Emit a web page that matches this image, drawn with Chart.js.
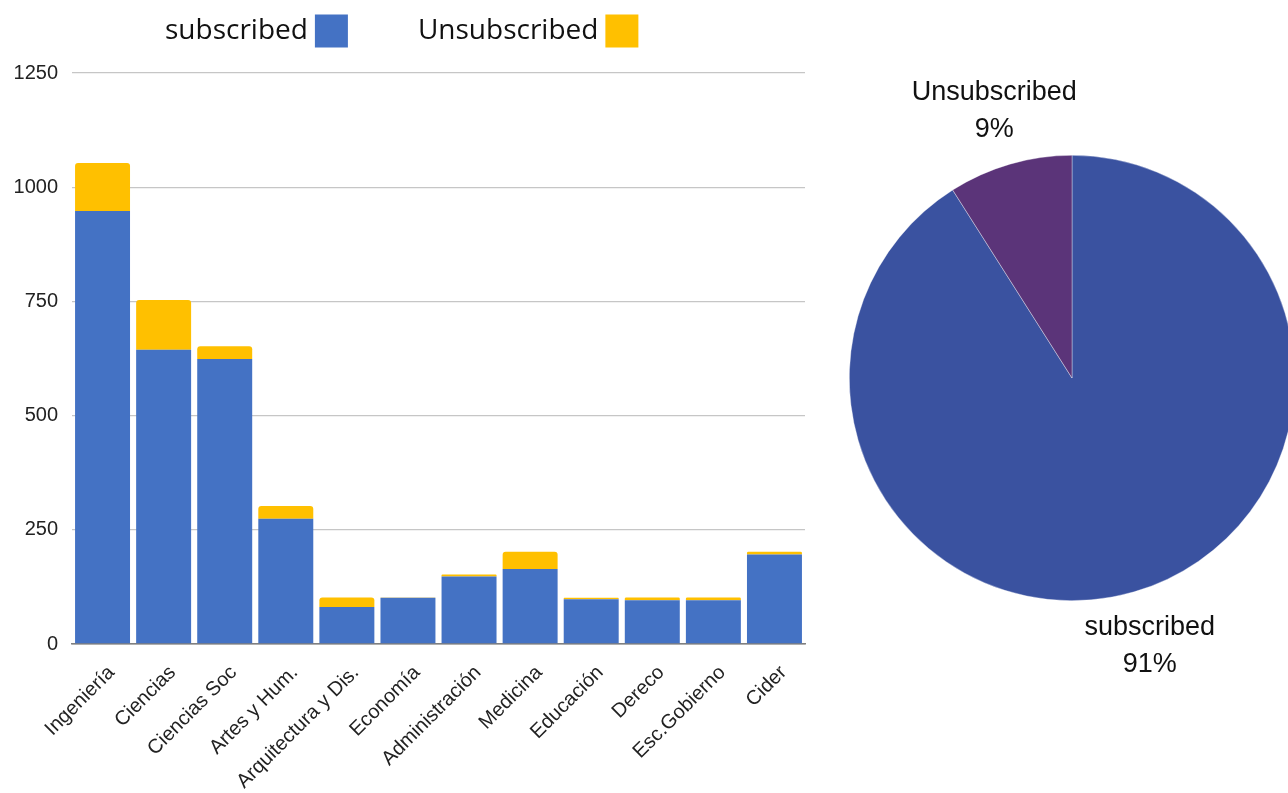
<!DOCTYPE html>
<html>
<head>
<meta charset="utf-8">
<script src="https://cdn.jsdelivr.net/npm/chart.js@4.4.1/dist/chart.umd.min.js"></script>
<style>
  html, body { margin: 0; padding: 0; background: #fff; overflow: hidden; width: 1288px; height: 793px; }
  #barWrap { position: absolute; left: 0; top: 0; width: 820px; height: 793px; }
  #pieWrap { position: absolute; left: 830px; top: 0; width: 484px; height: 793px; }
</style>
</head>
<body>
<div id="barWrap"><canvas id="barChart"></canvas></div>
<div id="pieWrap"><canvas id="pieChart"></canvas></div>
<script>
// students per faculty
const faculties = ['Ingeniería', 'Ciencias', 'Ciencias Soc', 'Artes y Hum.', 'Arquitectura y Dis.', 'Economía',
  'Administración', 'Medicina', 'Educación', 'Dereco', 'Esc.Gobierno', 'Cider'];
const subscribed   = [948, 644, 624, 274, 81, 101, 148, 164, 98, 96, 96, 196];
const unsubscribed = [105, 109, 28, 28, 21, 1, 4, 38, 3, 6, 6, 6];
const seriesNames = ['subscribed', 'Unsubscribed'];
const yTicks = [0, 250, 500, 750, 1000, 1250];

// overall share (%)
const pieLabels = ['subscribed', 'Unsubscribed'];
const pieShares = [91, 9];

const BLUE = '#4472C4';
const GOLD = '#FFC000';
const tickFont = { family: '"Liberation Sans", Arial, sans-serif', size: 20 };

// legend with the label first and the swatch after it
const topLegend = {
  id: 'topLegend',
  afterDraw(chart) {
    const ctx = chart.ctx;
    ctx.save();
    ctx.font = '28px "Open Sans", sans-serif';
    ctx.textBaseline = 'middle';
    ctx.textAlign = 'left';
    const box = 33, gapText = 7, gapItem = 70;
    let x = 165;
    const y = 31;
    chart.data.datasets.forEach(ds => {
      const w = ctx.measureText(ds.label).width;
      ctx.fillStyle = '#111';
      ctx.fillText(ds.label, x, y);
      x += w + gapText;
      ctx.fillStyle = ds.backgroundColor;
      ctx.fillRect(x, y - box / 2, box, box);
      x += box + gapItem;
    });
    ctx.restore();
  }
};

new Chart(document.getElementById('barChart'), {
  type: 'bar',
  data: {
    labels: faculties,
    datasets: [
      { label: seriesNames[0], data: subscribed, backgroundColor: BLUE, borderRadius: 0 },
      { label: seriesNames[1], data: unsubscribed, backgroundColor: GOLD,
        borderRadius: { topLeft: 3, topRight: 3, bottomLeft: 0, bottomRight: 0 }, borderSkipped: 'bottom' }
    ]
  },
  options: {
    responsive: true,
    maintainAspectRatio: false,
    animation: false,
    layout: { padding: { top: 73, right: 15, left: 0, bottom: 0 } },
    datasets: { bar: { categoryPercentage: 1, barPercentage: 0.9 } },
    plugins: { legend: { display: false }, tooltip: { enabled: false } },
    scales: {
      x: {
        stacked: true,
        grid: { display: false, drawTicks: false },
        border: { display: true, color: '#7f7f7f', width: 1.5 },
        ticks: { color: '#222', font: tickFont, minRotation: 45, maxRotation: 45, autoSkip: false, padding: 17, labelOffset: 9 },
        afterFit(scale) { scale.height = 149; }
      },
      y: {
        stacked: true,
        min: 0,
        max: 1250,
        afterBuildTicks(scale) { scale.ticks = yTicks.map(v => ({ value: v })); },
        grid: {
          drawTicks: false,
          color: c => c.tick && c.tick.value === 0 ? '#7f7f7f' : '#c6c6c6',
          lineWidth: 1.3
        },
        border: { display: false },
        ticks: { color: '#222', font: tickFont, padding: 14, callback: v => String(v) },
        afterFit(scale) { scale.width = 72; }
      }
    }
  },
  plugins: [topLegend]
});

// category name and percent outside each slice
const sliceLabels = {
  id: 'sliceLabels',
  afterDatasetsDraw(chart) {
    const ctx = chart.ctx;
    const meta = chart.getDatasetMeta(0);
    const values = chart.data.datasets[0].data;
    ctx.save();
    ctx.font = '27px "Liberation Sans", Arial, sans-serif';
    ctx.fillStyle = '#111';
    ctx.textAlign = 'center';
    ctx.textBaseline = 'middle';
    meta.data.forEach((arc, i) => {
      const mid = (arc.startAngle + arc.endAngle) / 2;
      const r = arc.outerRadius + 56;
      const x = arc.x + Math.cos(mid) * r;
      const y = arc.y + Math.sin(mid) * r;
      ctx.fillText(chart.data.labels[i], x, y - 18);
      ctx.fillText(values[i] + '%', x, y + 19);
    });
    ctx.restore();
  }
};

new Chart(document.getElementById('pieChart'), {
  type: 'pie',
  data: {
    labels: pieLabels,
    datasets: [{
      data: pieShares,
      backgroundColor: ['#3A52A0', '#5B3479'],
      borderColor: 'rgba(255,255,255,0.6)',
      borderWidth: 0.6
    }]
  },
  options: {
    responsive: true,
    maintainAspectRatio: false,
    animation: false,
    layout: { padding: { top: 155, bottom: 192, left: 19, right: 19 } },
    plugins: { legend: { display: false }, tooltip: { enabled: false } }
  },
  plugins: [sliceLabels]
});
</script>
</body>
</html>
